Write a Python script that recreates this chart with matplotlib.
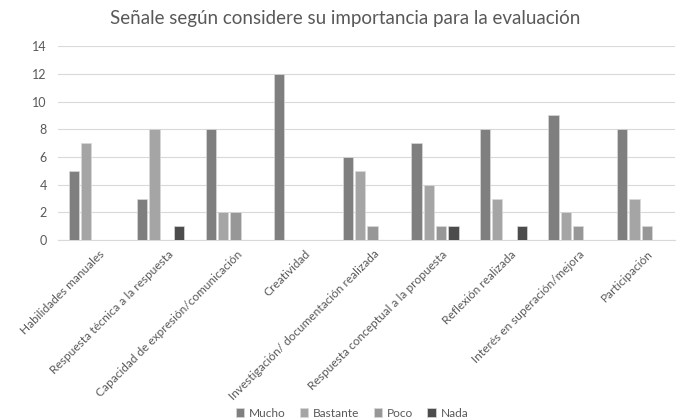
import matplotlib.pyplot as plt
import matplotlib.transforms as mtransforms
import numpy as np

plt.rcParams['font.family'] = ['Lato', 'DejaVu Sans']

categorias = [
    "Habilidades manuales",
    "Respuesta técnica a la respuesta",
    "Capacidad de expresión/comunicación",
    "Creatividad",
    "Investigación/ documentación realizada",
    "Respuesta conceptual a la propuesta",
    "Reflexión realizada",
    "Interés en superación/mejora",
    "Participación",
]
series = ["Mucho", "Bastante", "Poco", "Nada"]
mucho = [5, 3, 8, 12, 6, 7, 8, 9, 8]
bastante = [7, 8, 2, 0, 5, 4, 3, 2, 3]
poco = [0, 0, 2, 0, 1, 1, 0, 1, 1]
nada = [0, 1, 0, 0, 0, 1, 1, 0, 0]
colores = ["#7f7f7f", "#a5a5a5", "#979797", "#4c4c4c"]

fig = plt.figure(figsize=(6.9, 4.19), dpi=100)
ax = fig.add_axes([0.084, 0.427, 0.894, 0.463])

x = np.arange(len(categorias))
paso = 0.18
ancho = 0.15
for i, (nombre, vals) in enumerate(zip(series, [mucho, bastante, poco, nada])):
    ax.bar(x + (i - 1.5) * paso, vals, ancho, color=colores[i], label=nombre,
           edgecolor="#d9d9d9", linewidth=0.5, zorder=3)

ax.set_xlim(-0.5, len(categorias) - 0.5)
ax.set_ylim(0, 14)
ax.set_yticks(range(0, 15, 2))
ax.yaxis.grid(True, color="#d9d9d9", linewidth=0.8, zorder=0)
for s in ["top", "right", "left"]:
    ax.spines[s].set_visible(False)
ax.spines["bottom"].set_color("#d9d9d9")
ax.tick_params(axis="y", length=0, labelsize=9, colors="#595959", pad=8)
ax.tick_params(axis="x", length=0, labelsize=8.6, colors="#595959", pad=6)
ax.set_xticks(x)
ax.set_xticklabels(categorias, rotation=45, ha="right", rotation_mode="anchor")
desplazar = mtransforms.ScaledTranslation(7 / 100, 0, fig.dpi_scale_trans)
for etiqueta in ax.get_xticklabels():
    etiqueta.set_transform(etiqueta.get_transform() + desplazar)

fig.suptitle("Señale según considere su importancia para la evaluación",
             x=0.5, y=0.975, fontsize=13.5, color="#595959")

fig.legend(loc="lower center", bbox_to_anchor=(0.51, -0.025), ncol=4, frameon=False,
           fontsize=8.6, handlelength=0.7, handleheight=0.7, columnspacing=1.2,
           handletextpad=0.4, labelcolor="#595959")

fig.savefig("out.png", dpi=100)
